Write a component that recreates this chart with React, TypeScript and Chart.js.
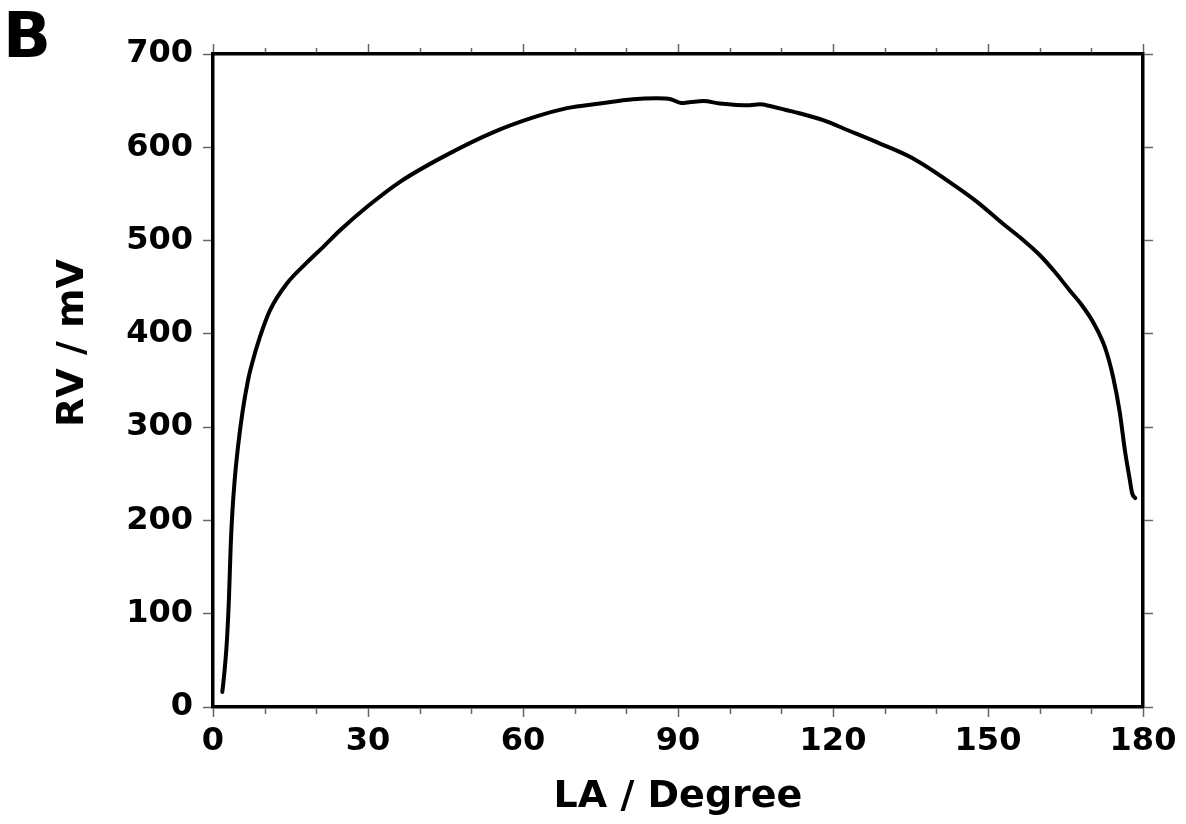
import React, { useEffect, useRef } from "react";
import { Chart, registerables } from "chart.js";

Chart.register(...registerables);

const FONT = "'DejaVu Sans', 'Liberation Sans', Arial, sans-serif";

const PANEL_LABEL = "B";
const X_TITLE = "LA / Degree";
const Y_TITLE = "RV / mV";

const X_TICK_STEP = 30;
const Y_TICK_STEP = 100;
const X_MIN = 0;
const X_MAX = 180;
const Y_MIN = 0;
const Y_MAX = 700;
const X_MINOR_TICKS = [10, 20, 40, 50, 70, 80, 100, 110, 130, 140, 160, 170];

const laDegree = [
  1.8, 2.26, 2.7, 3.1, 3.42, 3.74, 4.19, 4.84, 5.68, 6.77, 7.6, 9.1, 11.0,
  14.3, 18.1, 21.3, 24.6, 30.0, 36.2, 44.6, 54.2, 62.0, 68.5, 74.9, 81.3, 85.9,
  88.6, 90.6, 92.5, 94.9, 98.1, 103.9, 105.8, 108.0, 110.9, 113.5, 118.1, 123.0,
  129.1, 135.5, 143.9, 148.0, 152.9, 156.5, 160.1, 163.0, 165.9, 168.0, 170.4,
  172.6, 174.2, 175.5, 176.5, 177.4, 177.9, 178.5,
];

const rvMilliVolt = [
  16, 40, 72, 118, 172, 208, 243, 279, 315, 350, 369, 397, 425,
  454, 476, 493, 511, 537, 563, 590, 616, 632, 642, 647, 651.5, 652.5,
  651.5, 647.5, 648.5, 649.5, 647, 645, 646, 644, 640, 636.5, 629, 618,
  604, 588, 557.6, 541, 518, 502, 484, 466, 446, 432, 412,
  386, 354, 316, 275, 245, 229, 224,
];

export default function App() {
  const canvasRef = useRef<HTMLCanvasElement | null>(null);

  useEffect(() => {
    document.body.style.margin = "0";
    const canvas = canvasRef.current;
    if (!canvas) return;

    const tickColor = "#666";
    const gridOpts = {
      drawOnChartArea: false,
      drawTicks: true,
      tickLength: 10,
      tickColor,
      tickWidth: 1.5,
    };
    const borderOpts = { display: true, color: "#000", width: 3.5 };
    const tickFont = { family: FONT, size: 32, weight: "bold" as const };
    const titleFont = { family: FONT, size: 38, weight: "bold" as const };

    const extras = {
      id: "extras",
      afterDraw(chart: any) {
        const ctx = chart.ctx as CanvasRenderingContext2D;
        const xs = chart.scales.x;
        const area = chart.chartArea;
        ctx.save();
        ctx.strokeStyle = tickColor;
        ctx.lineWidth = 1.5;
        ctx.beginPath();
        for (const v of X_MINOR_TICKS) {
          const px = Math.round(xs.getPixelForValue(v)) + 0.5;
          ctx.moveTo(px, area.bottom + 1.5);
          ctx.lineTo(px, area.bottom + 7);
          ctx.moveTo(px, area.top - 1.5);
          ctx.lineTo(px, area.top - 6);
        }
        ctx.stroke();

        ctx.fillStyle = "#000";
        ctx.font = `bold 63px ${FONT}`;
        ctx.textAlign = "left";
        ctx.textBaseline = "alphabetic";
        ctx.fillText(PANEL_LABEL, 3, 57);

        ctx.translate(73, 343);
        ctx.rotate(-Math.PI / 2);
        ctx.font = `bold 38px ${FONT}`;
        ctx.textAlign = "center";
        ctx.textBaseline = "middle";
        ctx.fillText(Y_TITLE, 0, 0);
        ctx.restore();
      },
    };

    const chart = new Chart(canvas, {
      type: "line",
      data: {
        datasets: [
          {
            data: laDegree.map((x, i) => ({ x, y: rvMilliVolt[i] })),
            borderColor: "#000",
            borderWidth: 4,
            borderCapStyle: "round",
            borderJoinStyle: "round",
            pointRadius: 0,
            fill: false,
            cubicInterpolationMode: "monotone",
          },
        ],
      },
      options: {
        responsive: false,
        animation: false,
        layout: { padding: 0 },
        plugins: {
          legend: { display: false },
          tooltip: { enabled: false },
          title: { display: false },
        },
        scales: {
          x: {
            type: "linear",
            position: "bottom",
            min: X_MIN,
            max: X_MAX,
            ticks: {
              stepSize: X_TICK_STEP,
              font: tickFont,
              color: "#000",
              padding: 5,
              maxRotation: 0,
              autoSkip: false,
            },
            grid: gridOpts,
            border: borderOpts,
            title: {
              display: true,
              text: X_TITLE,
              font: titleFont,
              color: "#000",
              padding: { top: 0, bottom: 4 },
            },
            afterFit: (s: any) => {
              s.height = 117;
            },
          },
          x2: {
            type: "linear",
            position: "top",
            min: X_MIN,
            max: X_MAX,
            ticks: { display: false, stepSize: X_TICK_STEP },
            grid: gridOpts,
            border: borderOpts,
            afterFit: (s: any) => {
              s.height = 54;
            },
          },
          y: {
            type: "linear",
            position: "left",
            min: Y_MIN,
            max: Y_MAX,
            ticks: {
              stepSize: Y_TICK_STEP,
              font: tickFont,
              color: "#000",
              padding: 10,
            },
            grid: gridOpts,
            border: borderOpts,
            afterFit: (s: any) => {
              s.width = 213;
            },
          },
          y2: {
            type: "linear",
            position: "right",
            min: Y_MIN,
            max: Y_MAX,
            ticks: { display: false, stepSize: Y_TICK_STEP },
            grid: gridOpts,
            border: borderOpts,
            afterFit: (s: any) => {
              s.width = 43;
            },
          },
        },
      },
      plugins: [extras],
    });

    return () => chart.destroy();
  }, []);

  return (
    <div style={{ width: 1186, height: 824, background: "#fff" }}>
      <canvas ref={canvasRef} width={1186} height={824} />
    </div>
  );
}
